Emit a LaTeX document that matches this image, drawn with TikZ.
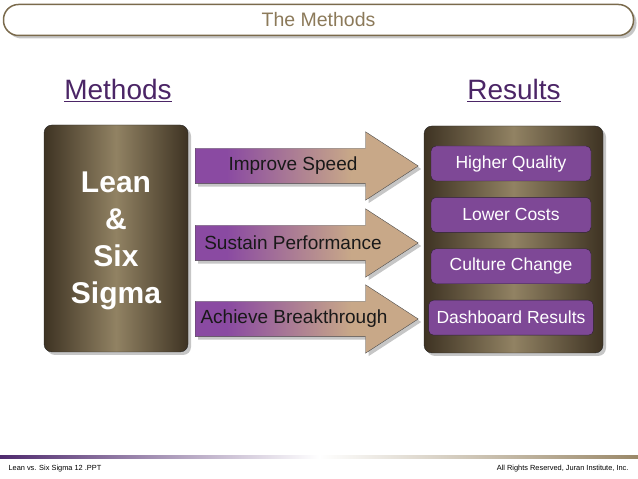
\documentclass[tikz,border=0pt]{standalone}
\usepackage{fontspec}
\setmainfont{Liberation Sans}
\usepackage{xcolor}
\usetikzlibrary{arrows.meta,positioning,shapes.arrows,shadows}
\definecolor{titletan}{HTML}{8C7A5A}
\definecolor{titleedge}{HTML}{7A6A4C}
\definecolor{headpurple}{HTML}{4B2566}
\definecolor{boxdark}{HTML}{3E3323}
\definecolor{boxlight}{HTML}{918263}
\definecolor{arrowpurple}{HTML}{8A4AA2}
\definecolor{arrowtan}{HTML}{C8A888}
\definecolor{itempurple}{HTML}{7E4896}
\definecolor{itemedge}{HTML}{2E2233}
\definecolor{footpurple}{HTML}{4F2A6E}
\definecolor{foottan}{HTML}{9A8868}
\pgfdeclarehorizontalshading{arrowfade}{100bp}{color(0bp)=(arrowpurple); color(32bp)=(arrowpurple); color(60bp)=(arrowtan); color(100bp)=(arrowtan)}

\begin{document}
\begin{tikzpicture}[x=1pt,y=1pt,>=Latex,node distance=16pt,
  softshadow/.style={drop shadow={shadow xshift=3pt,shadow yshift=-3pt,opacity=.45}},
  titlebar/.style={draw=titleedge,line width=1.5pt,fill=white,rounded corners=15pt,minimum width=630pt,minimum height=31pt,text=titletan,font=\fontsize{19.5}{22}\selectfont,softshadow},
  heading/.style={text=headpurple,font=\fontsize{28}{32}\selectfont,anchor=base},
  framebox/.style={draw=black!85,rounded corners=8pt,left color=boxdark,right color=boxdark,middle color=boxlight,softshadow},
  flowarrow/.style={single arrow,draw=black!70,single arrow head extend=16.5pt,single arrow tip angle=66,minimum height=223pt,minimum width=68pt,inner xsep=0pt,inner ysep=17.5pt,shading=arrowfade,anchor=tail,softshadow},
  arrowlabel/.style={text=black!90,font=\fontsize{19}{22}\selectfont},
  result/.style={draw=itemedge,rounded corners=5pt,fill=itempurple,text=white,font=\fontsize{17.5}{20}\selectfont,minimum width=160pt,minimum height=35pt,inner xsep=8pt},
  footnote/.style={font=\fontsize{7.4}{9}\selectfont,text=black}]
\useasboundingbox (0,0) rectangle (638,479);
% title bar
\node[titlebar] (title) at (318.5,459) {The Methods};
\node[heading] (methods) at (118,379) {\underline{Methods}};
\node[heading] (results) at (514,379) {\underline{Results}};
% methods box
\node[framebox,minimum width=144pt,minimum height=227pt] (leanbox) at (116,240.5) {};
\node[font=\bfseries\fontsize{30}{37}\selectfont,text=white,align=center] (lean) at (116,238) {Lean\\\&\\Six\\Sigma};
% arrows
\node[flowarrow] (speed) at (195,313) {};
\node[flowarrow] (sustain) at (195,236) {};
\node[flowarrow] (breakthrough) at (195,160) {};
\node[arrowlabel] (speedtext) at (293,313) {Improve Speed};
\node[arrowlabel] (sustaintext) at (293,236) {Sustain Performance};
\node[arrowlabel] (breakthroughtext) at (294,160) {Achieve Breakthrough};
% results box
\node[framebox,minimum width=179pt,minimum height=227pt] (resultbox) at (513.5,239.5) {};
\node[result] (quality) at (511,315.5) {Higher Quality};
\node[result,below=of quality] (costs) {Lower Costs};
\node[result,below=of costs] (culture) {Culture Change};
\node[result,below=of culture] (dashboard) {Dashboard Results};
% footer
\shade[left color=footpurple,right color=white] (0,20.5) rectangle (319,23);
\shade[left color=white,right color=foottan] (319,20.5) rectangle (638,23);
\node[footnote,anchor=base west] (slideid) at (5,8) {Lean vs. Six Sigma 12 .PPT};
\node[footnote,anchor=base east] (rights) at (632,8) {All Rights Reserved, Juran Institute, Inc.};
\end{tikzpicture}
\end{document}
